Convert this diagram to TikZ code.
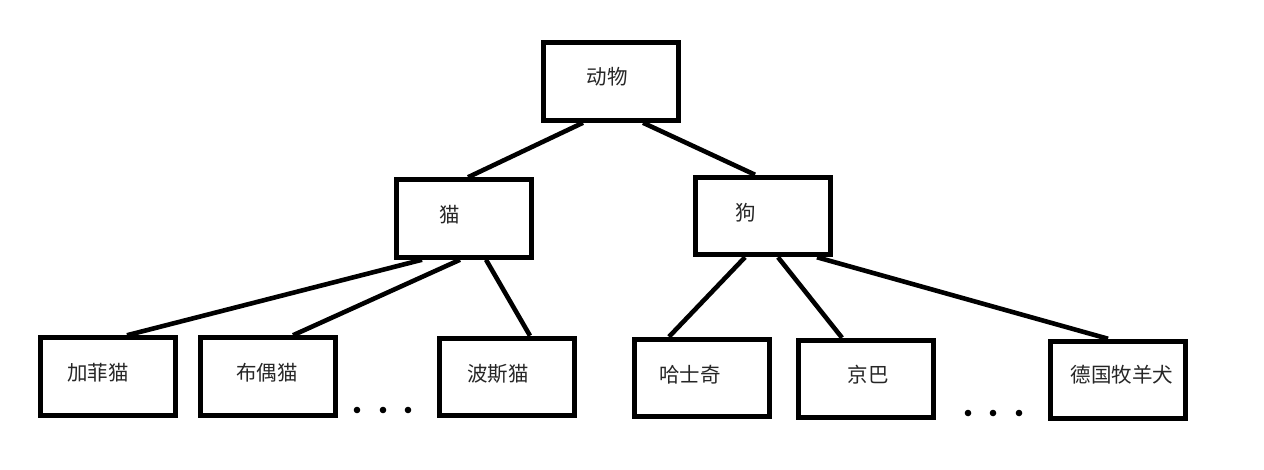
\documentclass[tikz,border=0pt]{standalone}
\usepackage{fontspec}
\newfontfamily\cjk{Noto Sans CJK SC}
\usetikzlibrary{calc}
\begin{document}
\begin{tikzpicture}[x=1pt,y=-1pt,
  box/.style={draw, line width=5pt, minimum width=135pt, minimum height=77.5pt, inner sep=0pt},
  lbl/.style={font=\cjk\fontsize{20.5}{24}\selectfont, inner sep=0pt, text=black!85},
  edge/.style={line width=4.6pt},
  dotmark/.style={fill=black}]
\useasboundingbox (0,0) rectangle (1264,469);
% boxes
\node[box] (animal) at (611,81.5) {};
\node[box] (cat) at (464,218.5) {};
\node[box] (dog) at (763,216) {};
\node[box] (garfield) at (108,376.5) {};
\node[box] (ragdoll) at (268,376.5) {};
\node[box] (persian) at (506.5,377) {};
\node[box] (husky) at (702,378) {};
\node[box] (peke) at (866,379) {};
\node[box] (shepherd) at (1118,380) {};
% labels
\node[lbl] (tanimal) at (607,77) {动物};
\node[lbl] (tcat) at (450,215) {猫};
\node[lbl] (tdog) at (746,213) {狗};
\node[lbl] (tgarfield) at (98,373) {加菲猫};
\node[lbl] (tragdoll) at (267,373) {布偶猫};
\node[lbl] (tpersian) at (498,374) {波斯猫};
\node[lbl] (thusky) at (690,375) {哈士奇};
\node[lbl] (tpeke) at (868,375) {京巴};
\node[lbl] (tshepherd) at (1122,375) {德国牧羊犬};
% connectors
\draw[edge] ([xshift=-28pt]animal.south) -- ([xshift=4pt]cat.north);
\draw[edge] ([xshift=32pt]animal.south) -- ([xshift=-8pt]dog.north);
\draw[edge] ([xshift=-42pt]cat.south) -- ([xshift=19pt]garfield.north);
\draw[edge] ([xshift=-4pt]cat.south) -- ([xshift=25pt]ragdoll.north);
\draw[edge] ([xshift=22pt]cat.south) -- ([xshift=23.5pt]persian.north);
\draw[edge] ([xshift=-18pt]dog.south) -- ([xshift=-33pt]husky.north);
\draw[edge] ([xshift=15pt]dog.south) -- ([xshift=-24pt]peke.north);
\draw[edge] ([xshift=54pt]dog.south) -- ([xshift=-10pt]shepherd.north);
% ellipses
\foreach \x in {357,383,408} \fill[dotmark] (\x,410) circle (3.3pt);
\foreach \x in {968,993,1019} \fill[dotmark] (\x,413) circle (3.3pt);
\end{tikzpicture}
\end{document}
